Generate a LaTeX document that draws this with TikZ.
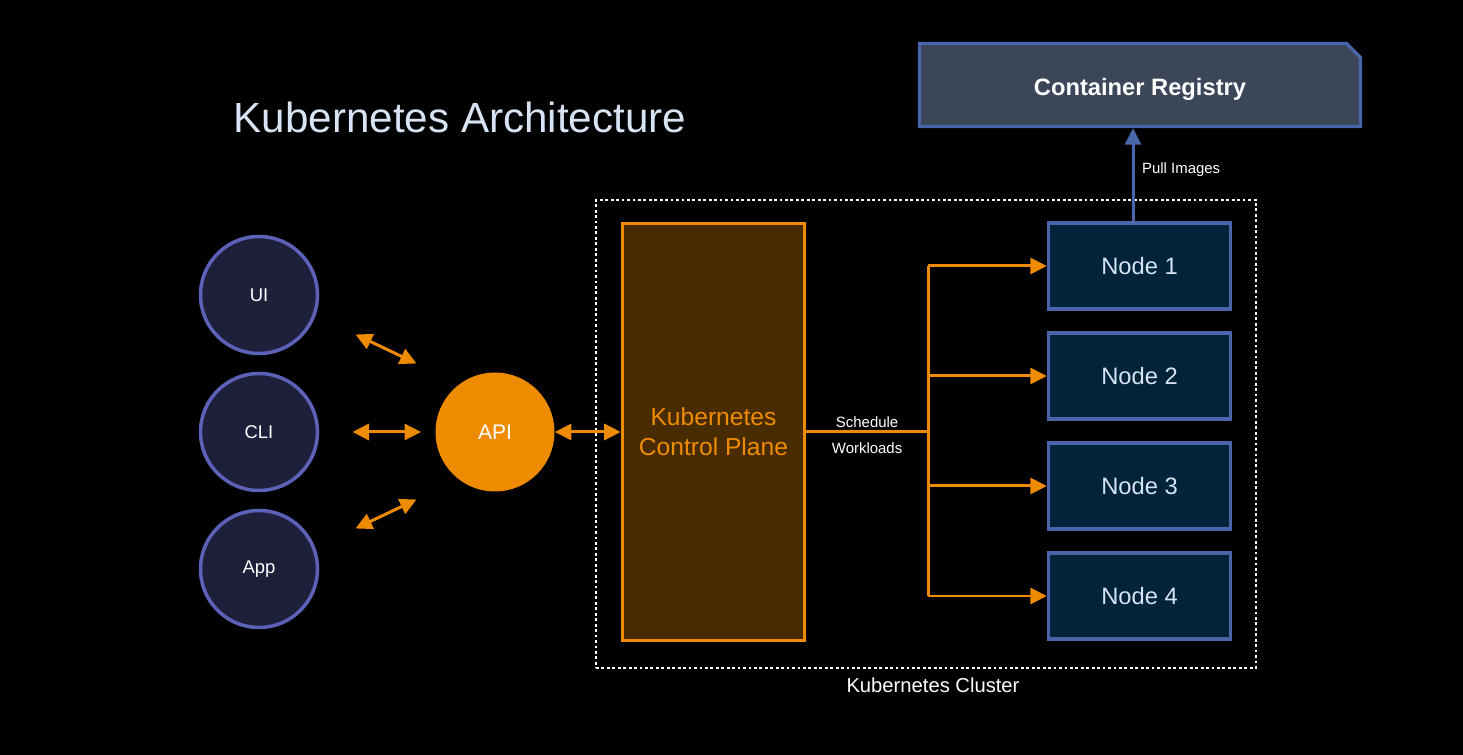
\documentclass[tikz,border=0pt]{standalone}
\usepackage{fontspec}
\setmainfont{Liberation Sans}
\usetikzlibrary{arrows.meta, positioning, calc, shapes.misc}
\definecolor{k8sorange}{RGB}{238, 139, 0}
\definecolor{planefill}{RGB}{72, 44, 0}
\definecolor{nodeblue}{RGB}{74, 102, 170}
\definecolor{nodefill}{RGB}{1, 36, 58}
\definecolor{regfill}{RGB}{59, 70, 89}
\definecolor{clientedge}{RGB}{92, 98, 184}
\definecolor{clientfill}{RGB}{30, 31, 58}
\definecolor{paletext}{RGB}{214, 228, 244}
\tikzset{
    client/.style={
        circle, minimum size=2.34cm, inner sep=0pt, draw=clientedge, fill=clientfill,
        line width=2pt, text=white, font=\fontsize{10.5}{12}\selectfont
    },
    apinode/.style={circle, minimum size=2.38cm, inner sep=0pt, fill=k8sorange, text=white, font=\fontsize{12}{14}\selectfont},
    planebox/.style={
        rectangle, minimum width=3.64cm, minimum height=8.34cm, draw=k8sorange, fill=planefill,
        line width=2pt, text=k8sorange, align=center, font=\fontsize{14}{17}\selectfont
    },
    workbox/.style={
        rectangle, minimum width=3.64cm, minimum height=1.72cm, draw=nodeblue, fill=nodefill,
        line width=1.9pt, text=paletext, font=\fontsize{13.5}{16}\selectfont
    },
    regbox/.style={
        chamfered rectangle, chamfered rectangle corners=north east, chamfered rectangle sep=0.14cm,
        minimum width=8.82cm, minimum height=1.66cm, draw=nodeblue, fill=regfill,
        line width=1.9pt, text=white, text height=1.4em, text depth=0.21em,
        font=\fontsize{13.5}{16}\selectfont\bfseries
    },
    clusterbox/.style={rectangle, minimum width=13.2cm, minimum height=9.36cm, draw=white, line width=1.6pt, dash pattern=on 1.6pt off 1.5pt},
    arrow/.style={-{Triangle[length=0.33cm, width=0.32cm]}, line width=1.7pt, color=k8sorange},
    biarrow/.style={{Triangle[length=0.33cm, width=0.32cm]}-{Triangle[length=0.33cm, width=0.32cm]}, line width=1.7pt, color=k8sorange},
    pullarrow/.style={-{Triangle[length=0.33cm, width=0.32cm]}, line width=1.7pt, color=nodeblue},
    smalltext/.style={font=\fontsize{8.5}{10}\selectfont, text=white},
}
\begin{document}
\begin{tikzpicture}
    \useasboundingbox (0,0) rectangle (29.26,15.1);
    \fill[black] (0,0) rectangle (29.26,15.1);

    \node[text=paletext, font=\fontsize{24}{28}\selectfont] (title) at (9.2, 12.76) {Kubernetes Architecture};

    \node[clusterbox] (cluster) at (18.52, 6.42) {};
    \node[white, font=\fontsize{11.5}{13}\selectfont] (clusterlabel) at (18.66, 1.4) {Kubernetes Cluster};

    \node[regbox] (registry) at (22.8, 13.4) {Container Registry};

    \node[client] (ui) at (5.18, 9.2) {UI};
    \node[client] (cli) at (5.18, 6.46) {CLI};
    \node[client] (app) at (5.18, 3.72) {App};

    \node[apinode] (api) at (9.9, 6.46) {API};
    \node[planebox] (plane) at (14.27, 6.46) {Kubernetes\\Control Plane};

    \node[workbox] (node1) at (22.79, 9.78) {Node 1};
    \node[workbox] (node2) at (22.79, 7.58) {Node 2};
    \node[workbox] (node3) at (22.79, 5.38) {Node 3};
    \node[workbox] (node4) at (22.79, 3.18) {Node 4};

    % client links float between the circles and the API
    \coordinate (uiend) at (7.11, 8.41);
    \coordinate (uiapi) at (8.33, 7.83);
    \coordinate (cliend) at (7.05, 6.46);
    \coordinate (cliapi) at (8.42, 6.46);
    \coordinate (append) at (7.11, 4.53);
    \coordinate (appapi) at (8.33, 5.11);
    \draw[biarrow] (uiend) -- (uiapi);
    \draw[biarrow] (cliend) -- (cliapi);
    \draw[biarrow] (append) -- (appapi);

    \draw[biarrow] (api) -- (plane);

    % scheduling fan-out
    \coordinate (fork) at (18.56, 6.46);
    \draw[k8sorange, line width=1.7pt] (plane.east) -- node[smalltext, above=-1.5pt] {Schedule} node[smalltext, below=2pt] {Workloads} (fork);
    \draw[k8sorange, line width=1.7pt] (fork |- node1) -- (fork |- node4);
    \draw[arrow] (fork |- node1) -- (node1);
    \draw[arrow] (fork |- node2) -- (node2);
    \draw[arrow] (fork |- node3) -- (node3);
    \draw[arrow] (fork |- node4) -- (node4);

    \draw[pullarrow] ([xshift=-0.13cm]node1.north) -- ([xshift=-0.13cm]node1.north |- registry.south)
        node[smalltext, pos=0.55, right=1pt] {Pull Images};
\end{tikzpicture}
\end{document}
